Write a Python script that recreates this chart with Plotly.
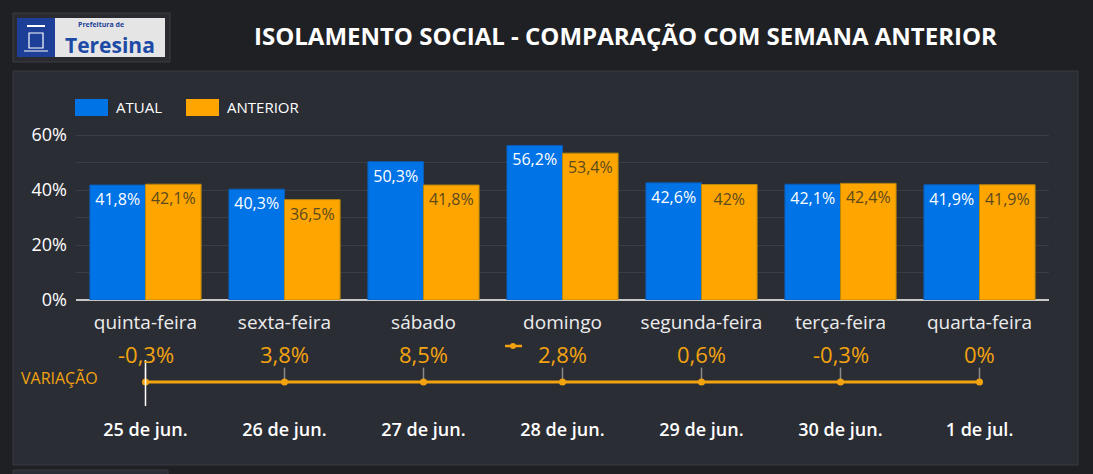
import plotly.graph_objects as go

# ---------------- data ----------------
dias = ["quinta-feira", "sexta-feira", "sábado", "domingo", "segunda-feira", "terça-feira", "quarta-feira"]
datas = ["25 de jun.", "26 de jun.", "27 de jun.", "28 de jun.", "29 de jun.", "30 de jun.", "1 de jul."]
atual = [41.8, 40.3, 50.3, 56.2, 42.6, 42.1, 41.9]
anterior = [42.1, 36.5, 41.8, 53.4, 42.0, 42.4, 41.9]
variacao = [-0.3, 3.8, 8.5, 2.8, 0.6, -0.3, 0.0]
variacao_base = [0, 0, 0, 0, 0, 0, 0]  # flat timeline
y_ticks = [0, 10, 20, 30, 40, 50, 60]
y_ticktext = ["0%", "", "20%", "", "40%", "", "60%"]
series_names = ["ATUAL", "ANTERIOR"]


def fmt(v):
    s = ("%.1f" % v)
    if s.endswith(".0"):
        s = s[:-2]
    if s == "-0":
        s = "0"
    return s.replace(".", ",") + "%"


# ---------------- geometry helpers ----------------
W, H = 1093, 474
ML, MR, MT, MB = 76, 44, 0, 0
PW, PH = W - ML - MR, H - MT - MB


def px(x):
    return (x - ML) / PW


def py(y):
    return (H - MB - y) / PH


BLUE = "#0073e6"
ORANGE = "#ffa500"
LINE_OR = "#f2a30f"
FONT = "Open Sans"
series_colors = [BLUE, ORANGE]

fig = go.Figure()

fig.add_trace(go.Bar(
    name=series_names[0], x=dias, y=atual, xaxis="x", yaxis="y",
    marker=dict(color=BLUE, line=dict(color="#0a5cb8", width=1)),
    text=[fmt(v) for v in atual], textposition="inside", insidetextanchor="end",
    textangle=0, insidetextfont=dict(color="white", size=16, family=FONT),
    hoverinfo="skip", showlegend=False,
))
fig.add_trace(go.Bar(
    name=series_names[1], x=dias, y=anterior, xaxis="x", yaxis="y",
    marker=dict(color=ORANGE, line=dict(color="#b8860b", width=1)),
    text=[fmt(v) for v in anterior], textposition="inside", insidetextanchor="end",
    textangle=0, insidetextfont=dict(color="#5b4a1e", size=16, family=FONT),
    hoverinfo="skip", showlegend=False,
))
fig.add_trace(go.Scatter(
    name="VARIAÇÃO", x=datas, y=variacao_base, xaxis="x2", yaxis="y2",
    mode="lines+markers", line=dict(color=LINE_OR, width=3),
    marker=dict(color=LINE_OR, size=7),
    error_y=dict(type="data", symmetric=False, array=[0.6] * len(datas),
                 arrayminus=[0] * len(datas), color="#8a8a8a", thickness=1.5, width=0),
    showlegend=False, hoverinfo="skip",
))

annotations = []
for d, v in zip(datas, variacao):
    annotations.append(dict(x=d, y=0, xref="x2", yref="y2", yshift=28, text=fmt(v),
                            xanchor="center", yanchor="middle",
                            showarrow=False, font=dict(color=LINE_OR, size=22, family=FONT)))

annotations += [
    dict(x=px(625), y=py(36), xref="paper", yref="paper", showarrow=False,
         xanchor="center", yanchor="middle",
         text="<b>ISOLAMENTO SOCIAL - COMPARAÇÃO COM SEMANA ANTERIOR</b>",
         font=dict(color="white", size=24, family=FONT)),
    dict(x=px(19), y=py(378), xref="paper", yref="paper", xanchor="left", yanchor="middle",
         showarrow=False, text="VARIAÇÃO", font=dict(color=LINE_OR, size=16, family=FONT)),
    dict(x=px(76), y=py(24), xref="paper", yref="paper", xanchor="left", yanchor="middle",
         showarrow=False, text="<b>Prefeitura de</b>",
         font=dict(color="#1d3f98", size=7, family=FONT)),
    dict(x=px(110), y=py(45), xref="paper", yref="paper", xanchor="center", yanchor="middle",
         showarrow=False, text="<b>Teresina</b>",
         font=dict(color="#1d4aa5", size=21, family=FONT)),
]

# manual legend (wide swatches like the reference)
legend_x = [75, 186]
for name, col, lx in zip(series_names, series_colors, legend_x):
    annotations.append(dict(x=px(lx + 39), y=py(107), xref="paper", yref="paper",
                            xanchor="left", yanchor="middle", showarrow=False, text=name,
                            font=dict(color="white", size=15, family=FONT)))

shapes = [
    # main panel
    dict(type="rect", xref="paper", yref="paper", layer="below",
         x0=px(13), x1=px(1078), y0=py(465), y1=py(71),
         fillcolor="#2b2d35", line=dict(color="#383a42", width=1)),
    # bottom tab
    dict(type="rect", xref="paper", yref="paper", layer="below",
         x0=px(13), x1=px(168), y0=py(478), y1=py(470),
         fillcolor="#2b2d35", line=dict(color="#383a42", width=1)),
    # logo frame
    dict(type="rect", xref="paper", yref="paper", layer="below",
         x0=px(13), x1=px(170), y0=py(62), y1=py(13),
         fillcolor="#2a2b31", line=dict(color="#3c3d44", width=1)),
    dict(type="rect", xref="paper", yref="paper", layer="below",
         x0=px(55), x1=px(165), y0=py(57), y1=py(18),
         fillcolor="#e5e5e5", line=dict(width=0)),
    dict(type="rect", xref="paper", yref="paper", layer="below",
         x0=px(17), x1=px(55), y0=py(57), y1=py(18),
         fillcolor="#1d3f98", line=dict(width=0)),
    dict(type="rect", xref="paper", yref="paper", layer="below",
         x0=px(29), x1=px(43), y0=py(48), y1=py(33),
         fillcolor="rgba(0,0,0,0)", line=dict(color="white", width=1.2)),
    dict(type="line", xref="paper", yref="paper", x0=px(24), x1=px(48), y0=py(51), y1=py(51),
         line=dict(color="white", width=1)),
    dict(type="line", xref="paper", yref="paper", x0=px(27), x1=px(45), y0=py(26), y1=py(26),
         line=dict(color="white", width=2)),
    # white spike at first point
    dict(type="line", xref="x2", yref="paper", x0=datas[0], x1=datas[0],
         y0=py(406), y1=py(360), line=dict(color="white", width=1.5)),
    # small legend-like glyph
    dict(type="line", xref="paper", yref="paper", x0=px(505), x1=px(522),
         y0=py(346), y1=py(346), line=dict(color=LINE_OR, width=2.5)),
    dict(type="circle", xref="paper", yref="paper", x0=px(510), x1=px(516),
         y0=py(349), y1=py(343), fillcolor=LINE_OR, line=dict(width=0)),
]
for col, lx in zip(series_colors, legend_x):
    shapes.append(dict(type="rect", xref="paper", yref="paper",
                       x0=px(lx), x1=px(lx + 33), y0=py(116), y1=py(99),
                       fillcolor=col, line=dict(width=0)))

fig.update_layout(
    template="none",
    width=W, height=H,
    margin=dict(l=ML, r=MR, t=MT, b=MB, pad=0),
    paper_bgcolor="#1f2024",
    plot_bgcolor="rgba(0,0,0,0)",
    font=dict(family=FONT, color="white"),
    barmode="group", bargap=0.2, bargroupgap=0,
    showlegend=False,
    xaxis=dict(domain=[0, 1], anchor="y", showgrid=False, zeroline=False, showline=False,
               ticks="", tickfont=dict(color="#ececec", size=19, family=FONT),
               ticklabelstandoff=9, automargin=False, fixedrange=True),
    yaxis=dict(domain=[py(300), py(121.25)], range=[0, 65], anchor="x",
               tickvals=y_ticks, ticktext=y_ticktext, showgrid=True, gridcolor="#3b3d46",
               gridwidth=1, zeroline=True, zerolinecolor="#c8c8c8", zerolinewidth=2,
               showline=False, ticks="", tickfont=dict(color="white", size=18, family=FONT),
               ticklabelstandoff=8, automargin=False, fixedrange=True),
    xaxis2=dict(domain=[0, 1], anchor="y2", range=[-0.5, len(datas) - 0.5],
                showgrid=False, zeroline=False, showline=False,
                ticks="", tickfont=dict(color="white", size=18, family=FONT, weight=600),
                ticklabelstandoff=11, automargin=False, fixedrange=True),
    yaxis2=dict(domain=[py(406), py(358)], range=[-1, 1], anchor="x2", visible=False,
                fixedrange=True),
    annotations=annotations,
    shapes=shapes,
)

fig.write_html("out.html", config={"displayModeBar": False},
               post_script="document.body.style.margin='0';document.body.style.overflow='hidden';")
